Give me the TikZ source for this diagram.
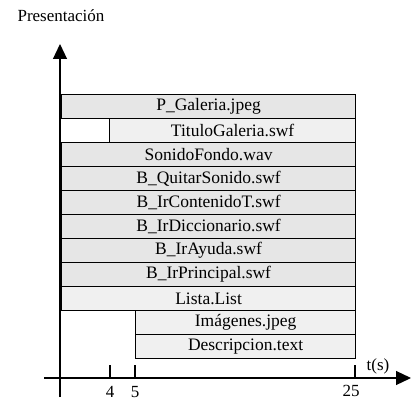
\documentclass[tikz,border=0pt]{standalone}
\usepackage{fontspec}
\setmainfont{Liberation Serif}
\usetikzlibrary{arrows.meta, positioning}
\definecolor{stonegray}{RGB}{230,230,230}
\definecolor{plaingray}{RGB}{240,240,240}
\tikzset{
  tbar/.style  = {draw=black, line width=1.2pt, fill=stonegray, anchor=north west,
                  minimum height=24pt, inner sep=0pt, font=\fontsize{17.5}{18}\selectfont},
  pbar/.style  = {tbar, fill=plaingray},
  axis/.style  = {-{Triangle[length=15pt,width=14pt]}, line width=1.2pt},
  tickl/.style = {line width=1.2pt},
  lbl/.style   = {font=\fontsize{17}{18}\selectfont, inner sep=0pt},
}

\begin{document}
\begin{tikzpicture}[x=1pt, y=-1pt]
  \useasboundingbox (0,0) rectangle (412,401);
  % axes
  \coordinate (ybot) at (60,397);
  \coordinate (ytop) at (60,44);
  \coordinate (xleft) at (44,378);
  \coordinate (xright) at (411,378);
  \draw[axis] (ybot) -- (ytop);
  \draw[axis] (xleft) -- (xright);
  \node[lbl] (title) at (61,16) {Presentación};
  \node[lbl] (tlab) at (378,366) {t(s)};
  % bars
  \node[tbar, minimum width=294pt] (pgal) at (61,94) {P\_Galeria.jpeg};
  \node[pbar, minimum width=246pt] (titgal) at (109,118) {TituloGaleria.swf};
  \node[tbar, minimum width=294pt] (sonido) at (61,142) {SonidoFondo.wav};
  \node[tbar, minimum width=294pt] (quitar) at (61,166) {B\_QuitarSonido.swf};
  \node[tbar, minimum width=294pt] (contenido) at (61,190) {B\_IrContenidoT.swf};
  \node[tbar, minimum width=294pt] (dicc) at (61,214) {B\_IrDiccionario.swf};
  \node[tbar, minimum width=294pt] (ayuda) at (61,238) {B\_IrAyuda.swf};
  \node[tbar, minimum width=294pt] (princ) at (61,262) {B\_IrPrincipal.swf};
  \node[pbar, minimum width=294pt] (lista) at (61,286) {Lista.List};
  \node[pbar, minimum width=220pt] (imag) at (135,310) {Imágenes.jpeg};
  \node[pbar, minimum width=220pt] (desc) at (135,334) {Descripcion.text};
  % ticks
  \foreach \t/\x in {4/110, 5/135, 25/355} {
    \coordinate (t\t) at (\x,365);
    \coordinate (b\t) at (\x,378);
    \draw[tickl] (t\t) -- (b\t);
  }
  \node[lbl, anchor=base] (l4) at (110,397) {4};
  \node[lbl, anchor=base] (l5) at (135,397) {5};
  \node[lbl, anchor=base] (l25) at (351,396) {25};
\end{tikzpicture}
\end{document}
